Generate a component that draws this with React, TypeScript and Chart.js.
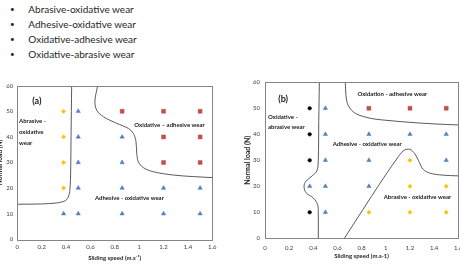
import React, { useEffect, useRef } from "react";
import { Chart, registerables } from "chart.js";

Chart.register(...registerables);

type P = { x: number; y: number };
type Label = { text: string; x: number; y: number; kind: string };

// ---------- data ----------
const bulletItems = [
  "Abrasive-oxidative wear",
  "Adhesive-oxidative wear",
  "Oxidative-adhesive wear",
  "Oxidative-abrasive wear",
];

const xTickValues = [0, 0.2, 0.4, 0.6, 0.8, 1, 1.2, 1.4, 1.6];
const yTickValues = [0, 10, 20, 30, 40, 50, 60];
const xTitleA = "Sliding speed (m.s\u207B\u00B9)";
const xTitleB = "Sliding speed (m.s-1)";
const yTitle = "Normal load (N)";

// chart (a)
const aAbrasiveOx: P[] = [
  { x: 0.38, y: 20 }, { x: 0.38, y: 30 }, { x: 0.38, y: 40 }, { x: 0.38, y: 50 },
];
const aAdhesiveOx: P[] = [
  { x: 0.38, y: 10 },
  { x: 0.5, y: 10 }, { x: 0.5, y: 20 }, { x: 0.5, y: 30 }, { x: 0.5, y: 40 }, { x: 0.5, y: 50 },
  { x: 0.86, y: 10 }, { x: 0.86, y: 20 }, { x: 0.86, y: 30 }, { x: 0.86, y: 40 },
  { x: 1.2, y: 10 }, { x: 1.2, y: 20 },
  { x: 1.5, y: 10 }, { x: 1.5, y: 20 },
];
const aOxAdhesive: P[] = [
  { x: 0.86, y: 50 },
  { x: 1.2, y: 30 }, { x: 1.2, y: 40 }, { x: 1.2, y: 50 },
  { x: 1.5, y: 30 }, { x: 1.5, y: 40 }, { x: 1.5, y: 50 },
];
const aBoundary1: P[] = [
  { x: 0, y: 13.7 }, { x: 0.19, y: 13.8 }, { x: 0.32, y: 14.2 }, { x: 0.39, y: 15.0 },
  { x: 0.418, y: 16.5 }, { x: 0.432, y: 19.5 }, { x: 0.438, y: 27 }, { x: 0.441, y: 40 },
  { x: 0.446, y: 60 },
];
const aBoundary2: P[] = [
  { x: 0.659, y: 60 }, { x: 0.637, y: 54 }, { x: 0.651, y: 50.5 }, { x: 0.706, y: 47.9 },
  { x: 0.815, y: 45.3 }, { x: 0.911, y: 43.3 }, { x: 0.952, y: 41.4 }, { x: 0.974, y: 38.1 },
  { x: 0.98, y: 33.6 }, { x: 0.993, y: 30.3 }, { x: 1.034, y: 28.0 }, { x: 1.116, y: 26.4 },
  { x: 1.28, y: 25.1 }, { x: 1.444, y: 24.5 }, { x: 1.6, y: 24.1 },
];
const aLabels: Label[] = [
  { text: "(a)", x: 0.16, y: 54, kind: "panel" },
  { text: "Abrasive -", x: 0.014, y: 46.3, kind: "left" },
  { text: "oxidative", x: 0.014, y: 41.9, kind: "left" },
  { text: "wear", x: 0.014, y: 37.7, kind: "left" },
  { text: "Oxidative \u2013 adhesive wear", x: 1.249, y: 44.6, kind: "center" },
  { text: "Adhesive - oxidative wear", x: 0.92, y: 16.1, kind: "center" },
];

// chart (b)
const bOxAbrasive: P[] = [
  { x: 0.37, y: 10 }, { x: 0.37, y: 30 }, { x: 0.37, y: 40 }, { x: 0.37, y: 50 },
];
const bAdhesiveOx: P[] = [
  { x: 0.37, y: 20 },
  { x: 0.5, y: 10 }, { x: 0.5, y: 20 }, { x: 0.5, y: 30 }, { x: 0.5, y: 40 }, { x: 0.5, y: 50 },
  { x: 0.86, y: 20 }, { x: 0.86, y: 30 }, { x: 0.86, y: 40 },
  { x: 1.2, y: 40 },
  { x: 1.5, y: 30 }, { x: 1.5, y: 40 },
];
const bAbrasiveOx: P[] = [
  { x: 0.86, y: 10 },
  { x: 1.2, y: 10 }, { x: 1.2, y: 20 }, { x: 1.2, y: 30 },
  { x: 1.5, y: 10 }, { x: 1.5, y: 20 },
];
const bOxAdhesive: P[] = [
  { x: 0.86, y: 50 }, { x: 1.2, y: 50 }, { x: 1.5, y: 50 },
];
const bBoundary1: P[] = [
  { x: 0.45, y: 60 }, { x: 0.445, y: 45 }, { x: 0.441, y: 30 }, { x: 0.43, y: 26 },
  { x: 0.39, y: 24 }, { x: 0.34, y: 22 }, { x: 0.323, y: 20 }, { x: 0.34, y: 17.5 },
  { x: 0.4, y: 15.5 }, { x: 0.435, y: 13 }, { x: 0.441, y: 10 }, { x: 0.441, y: 0 },
];
const bBoundary2: P[] = [
  { x: 0.665, y: 60 }, { x: 0.67, y: 55 }, { x: 0.69, y: 51 }, { x: 0.75, y: 48 },
  { x: 0.87, y: 46.2 }, { x: 1.0, y: 45.4 }, { x: 1.2, y: 44.6 }, { x: 1.4, y: 44 },
  { x: 1.6, y: 43.6 },
];
const bBoundary3: P[] = [
  { x: 0.657, y: 0 }, { x: 0.81, y: 11 }, { x: 0.95, y: 21 }, { x: 1.09, y: 30.5 },
  { x: 1.15, y: 33.8 }, { x: 1.2, y: 34.2 }, { x: 1.24, y: 32.5 }, { x: 1.27, y: 30 },
  { x: 1.31, y: 26.5 }, { x: 1.37, y: 25 }, { x: 1.47, y: 24.3 }, { x: 1.6, y: 24 },
];
const bLabels: Label[] = [
  { text: "(b)", x: 0.15, y: 53.6, kind: "panel" },
  { text: "Oxidative -", x: 0.025, y: 46.8, kind: "left" },
  { text: "abrasive wear", x: 0.025, y: 42.9, kind: "left" },
  { text: "Oxidation - adhesive wear", x: 1.054, y: 55.5, kind: "center" },
  { text: "Adhesive - oxidative wear", x: 0.846, y: 36.3, kind: "center" },
  { text: "Abrasive - oxidative wear", x: 1.262, y: 16.0, kind: "center" },
];

// ---------- styles ----------
const FONT = "Lato, 'Open Sans', sans-serif";
const C_YELLOW = "#FFC000";
const C_BLUE = "#4F81BD";
const C_RED = "#C0504D";
const C_BLACK = "#000000";
const C_LINE = "#5a5a5a";
const C_FRAME = "#858585";

const labelStyle: Record<string, { font: string; align: CanvasTextAlign }> = {
  panel: { font: `bold 9px ${FONT}`, align: "center" },
  left: { font: `bold 6px ${FONT}`, align: "left" },
  center: { font: `bold 6px ${FONT}`, align: "center" },
};

function textPlugin(labels: Label[]) {
  return {
    id: "regionText",
    afterDatasetsDraw(chart: any) {
      const { ctx, scales } = chart;
      ctx.save();
      ctx.fillStyle = "#1a1a1a";
      ctx.textBaseline = "middle";
      for (const l of labels) {
        const st = labelStyle[l.kind];
        ctx.font = st.font;
        ctx.textAlign = st.align;
        ctx.fillText(l.text, scales.x.getPixelForValue(l.x), scales.y.getPixelForValue(l.y));
      }
      ctx.restore();
    },
  };
}

const framePlugin = {
  id: "frame",
  afterDraw(chart: any) {
    const { ctx, chartArea: a } = chart;
    ctx.save();
    ctx.strokeStyle = C_FRAME;
    ctx.lineWidth = 1;
    ctx.strokeRect(Math.round(a.left) + 0.5, Math.round(a.top) + 0.5, Math.round(a.right - a.left), Math.round(a.bottom - a.top));
    ctx.restore();
  },
};

type Spec = {
  curves: P[][];
  markers: { data: P[]; style: string; color: string; radius: number }[];
  labels: Label[];
  xTitle: string;
  yAxisWidth: number;
  xAxisHeight: number;
  padding: { top: number; right: number; left: number; bottom: number };
  yTitlePad: number;
  xTitlePad: number;
  yTitleSize: number;
  xTickPad: number;
  yTickPad: number;
};

function makeConfig(s: Spec): any {
  const fmt = (v: any) => String(Math.round(Number(v) * 10) / 10);
  return {
    type: "scatter",
    data: {
      datasets: [
        ...s.curves.map((c) => ({
          data: c,
          showLine: true,
          tension: 0.35,
          borderColor: C_LINE,
          borderWidth: 1,
          pointRadius: 0,
          fill: false,
        })),
        ...s.markers.map((m) => ({
          data: m.data,
          showLine: false,
          pointStyle: m.style,
          pointRadius: m.radius,
          backgroundColor: m.color,
          borderColor: m.color,
          borderWidth: 0.5,
        })),
      ],
    },
    options: {
      responsive: false,
      animation: false,
      devicePixelRatio: 1,
      layout: { padding: s.padding },
      plugins: { legend: { display: false }, tooltip: { enabled: false } },
      scales: {
        x: {
          type: "linear",
          min: 0,
          max: 1.6,
          afterBuildTicks: (sc: any) => {
            sc.ticks = xTickValues.map((v) => ({ value: v }));
          },
          afterFit: (sc: any) => {
            sc.height = s.xAxisHeight;
          },
          grid: { display: false, drawTicks: false },
          border: { display: false },
          ticks: {
            callback: fmt,
            autoSkip: false,
            maxRotation: 0,
            padding: s.xTickPad,
            color: "#404040",
            font: { family: FONT, size: 6 },
          },
          title: {
            display: true,
            text: s.xTitle,
            color: "#262626",
            font: { family: FONT, size: 6, weight: "bold" },
            padding: { top: 0, bottom: s.xTitlePad },
          },
        },
        y: {
          type: "linear",
          min: 0,
          max: 60,
          afterBuildTicks: (sc: any) => {
            sc.ticks = yTickValues.map((v) => ({ value: v }));
          },
          afterFit: (sc: any) => {
            sc.width = s.yAxisWidth;
          },
          grid: { display: false, drawTicks: false },
          border: { display: false },
          ticks: {
            callback: fmt,
            autoSkip: false,
            padding: s.yTickPad,
            color: "#404040",
            font: { family: FONT, size: 6 },
          },
          title: {
            display: true,
            text: yTitle,
            color: "#262626",
            font: { family: FONT, size: s.yTitleSize, weight: "bold" },
            padding: { top: s.yTitlePad, bottom: 0 },
          },
        },
      },
    },
    plugins: [framePlugin, textPlugin(s.labels)],
  };
}

const specA: Spec = {
  curves: [aBoundary1, aBoundary2],
  markers: [
    { data: aAbrasiveOx, style: "rectRot", color: C_YELLOW, radius: 2.1 },
    { data: aAdhesiveOx, style: "triangle", color: C_BLUE, radius: 2.5 },
    { data: aOxAdhesive, style: "rect", color: C_RED, radius: 2.8 },
  ],
  labels: aLabels,
  xTitle: xTitleA,
  yAxisWidth: 21.3,
  xAxisHeight: 28.7,
  padding: { top: 7.7, right: 11.7, left: 0, bottom: 0 },
  yTitlePad: 0,
  xTitlePad: 6.7,
  yTitleSize: 6.5,
  xTickPad: 3.8,
  yTickPad: 4,
};

const specB: Spec = {
  curves: [bBoundary1, bBoundary2, bBoundary3],
  markers: [
    { data: bOxAbrasive, style: "circle", color: C_BLACK, radius: 1.8 },
    { data: bAdhesiveOx, style: "triangle", color: C_BLUE, radius: 2.5 },
    { data: bAbrasiveOx, style: "rectRot", color: C_YELLOW, radius: 2.1 },
    { data: bOxAdhesive, style: "rect", color: C_RED, radius: 2.8 },
  ],
  labels: bLabels,
  xTitle: xTitleB,
  yAxisWidth: 33,
  xAxisHeight: 29.7,
  padding: { top: 10.3, right: 13.7, left: 0, bottom: 0 },
  yTitlePad: 11.8,
  xTitlePad: 8.4,
  yTitleSize: 7,
  xTickPad: 5.8,
  yTickPad: 5,
};

function ChartCanvas(props: { spec: Spec; left: number; top: number; width: number; height: number }) {
  const ref = useRef<HTMLCanvasElement>(null);
  useEffect(() => {
    if (!ref.current) return;
    const chart = new Chart(ref.current, makeConfig(props.spec));
    return () => chart.destroy();
  }, []);
  return (
    <canvas
      ref={ref}
      width={props.width}
      height={props.height}
      style={{
        position: "absolute",
        left: props.left,
        top: props.top,
        width: props.width,
        height: props.height,
      }}
    />
  );
}

export default function App() {
  return (
    <div
      style={{
        position: "absolute",
        left: 0,
        top: 0,
        width: 460,
        height: 268,
        overflow: "hidden",
        background: "#ffffff",
      }}
    >
      <div style={{ position: "absolute", left: 0, top: 1.7, fontFamily: FONT, fontSize: 10, color: "#262626" }}>
        {bulletItems.map((t) => (
          <div key={t} style={{ position: "relative", height: 15.2, lineHeight: "15.2px", whiteSpace: "nowrap" }}>
            <span style={{ position: "absolute", left: 10, fontSize: 8 }}>{"\u2022"}</span>
            <span style={{ position: "absolute", left: 28.3 }}>{t}</span>
          </div>
        ))}
      </div>
      <ChartCanvas spec={specA} left={-4} top={78} width={228} height={190} />
      <ChartCanvas spec={specB} left={232} top={72} width={240} height={196} />
    </div>
  );
}
